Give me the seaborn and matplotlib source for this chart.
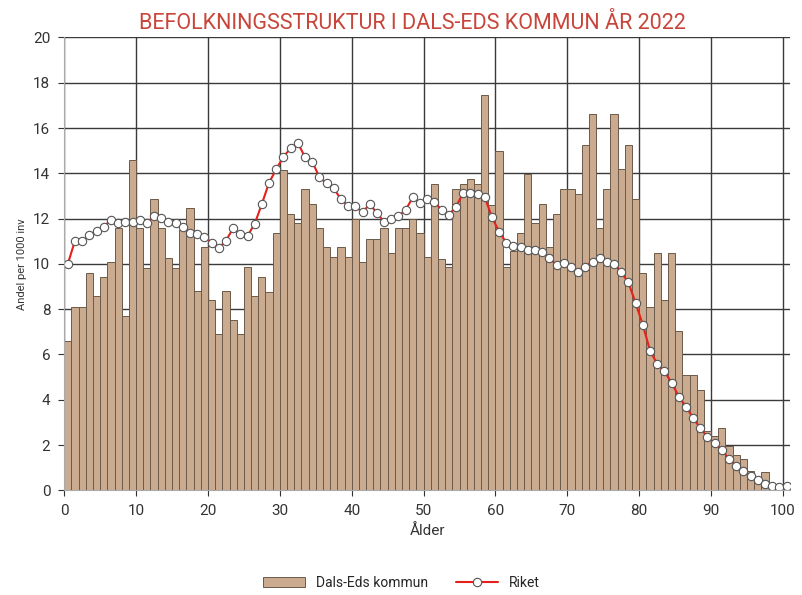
import numpy as np
import pandas as pd
import matplotlib
matplotlib.use("Agg")
import matplotlib.pyplot as plt
from matplotlib.patches import Patch
from matplotlib.lines import Line2D
import seaborn as sns

# ålder 0-100
alder = list(range(0, 101))

# Dals-Eds kommun, andel per 1000 inv (avläst)
dals_ed = [6.6, 8.1, 8.1, 9.6, 8.6, 9.4, 10.1, 11.6, 7.7, 14.6,
           11.6, 9.8, 12.85, 11.6, 10.25, 9.8, 11.5, 12.45, 8.8, 10.75,
           8.4, 6.9, 8.8, 7.5, 6.9, 9.85, 8.6, 9.4, 8.75, 11.35,
           14.15, 12.2, 11.8, 13.3, 12.65, 11.6, 10.75, 10.3, 10.75, 10.3,
           12.0, 10.1, 11.1, 11.1, 11.6, 10.5, 11.6, 11.6, 12.0, 11.35,
           10.3, 13.55, 10.2, 9.85, 13.3, 13.55, 13.75, 13.55, 17.45, 12.6,
           15.0, 9.85, 10.55, 11.35, 13.95, 11.8, 12.65, 10.75, 12.2, 13.3,
           13.3, 13.1, 15.25, 16.6, 11.6, 13.3, 16.6, 14.2, 15.25, 12.85,
           9.6, 8.1, 10.5, 8.4, 10.5, 7.05, 5.1, 5.1, 4.45, 2.6,
           2.4, 2.75, 1.95, 1.55, 1.4, 0.85, 0.45, 0.8, 0.25, 0.1,
           0.15]

# Riket
riket = [10.0, 11.03, 10.99, 11.28, 11.47, 11.65, 11.94, 11.8, 11.87, 11.83,
         11.94, 11.8, 12.12, 12.02, 11.87, 11.8, 11.65, 11.35, 11.32, 11.2,
         10.94, 10.69, 11.03, 11.57, 11.3, 11.24, 11.77, 12.65, 13.59, 14.18,
         14.74, 15.1, 15.35, 14.71, 14.52, 13.83, 13.56, 13.34, 12.85, 12.56,
         12.56, 12.27, 12.65, 12.24, 11.87, 11.97, 12.12, 12.38, 12.94, 12.69,
         12.88, 12.75, 12.38, 12.16, 12.53, 13.12, 13.12, 13.09, 12.97, 12.06,
         11.43, 10.94, 10.79, 10.73, 10.62, 10.62, 10.54, 10.25, 9.96, 10.06,
         9.88, 9.62, 9.88, 10.1, 10.25, 10.1, 10.0, 9.62, 9.18, 8.26,
         7.31, 6.17, 5.59, 5.25, 4.76, 4.14, 3.7, 3.19, 2.74, 2.35,
         2.08, 1.79, 1.38, 1.08, 0.83, 0.64, 0.46, 0.29, 0.2, 0.14,
         0.2]

df = pd.DataFrame({"alder": alder, "dals_ed": dals_ed, "riket": riket})
df["mitt"] = df["alder"] + 0.5   # staplarna går från a till a+1

sns.set_style("white")
plt.rcParams["font.family"] = ["Roboto", "DejaVu Sans"]

bar_color = "#caab8f"
line_color = "#e8201c"

fig = plt.figure(figsize=(8.03, 5.95), dpi=100)
ax = fig.add_axes([0.080, 0.176, 0.904, 0.761])

# rutnät bakom staplarna
ax.set_axisbelow(True)
ax.grid(True, color="#3a3a3a", linewidth=1.0)

sns.barplot(data=df, x="mitt", y="dals_ed", native_scale=True, width=1,
            color=bar_color, edgecolor="#6b5a4a", linewidth=0.7,
            saturation=1, errorbar=None, ax=ax)
sns.lineplot(data=df, x="mitt", y="riket", color=line_color, linewidth=1.5,
             marker="o", markersize=6, markerfacecolor="white",
             markeredgecolor="#555555", markeredgewidth=0.8, ax=ax)

ax.set_xlim(0, 101)
ax.set_ylim(0, 20)
ax.set_xticks(range(0, 101, 10))
ax.set_yticks(range(0, 21, 2))
ax.tick_params(axis="both", labelsize=11, colors="#333333", length=4,
               direction="out", left=True, bottom=True)
ax.tick_params(axis="x", pad=6)
ax.tick_params(axis="y", pad=6)
for s in ["top", "right"]:
    ax.spines[s].set_visible(False)
ax.spines["left"].set_color("#aaaaaa")
ax.spines["bottom"].set_color("#aaaaaa")

ax.set_xlabel("Ålder", fontsize=11, color="#333333", labelpad=4)
ax.set_ylabel("Andel per 1000 inv", fontsize=8, color="#333333", labelpad=4)
ax.set_title("BEFOLKNINGSSTRUKTUR I DALS-EDS KOMMUN ÅR 2022",
             color="#c8453a", fontsize=15.5, pad=6, x=0.48)

handles = [Patch(facecolor=bar_color, edgecolor="#6b5a4a", linewidth=0.7),
           Line2D([0], [0], color=line_color, linewidth=1.5, marker="o",
                  markersize=6, markerfacecolor="white",
                  markeredgecolor="#555555", markeredgewidth=0.8)]
fig.legend(handles, ["Dals-Eds kommun", "Riket"], loc="center",
           bbox_to_anchor=(0.5, 0.02), ncol=2, frameon=False, fontsize=10,
           handlelength=3, columnspacing=2)

fig.savefig("out.png", dpi=100)
